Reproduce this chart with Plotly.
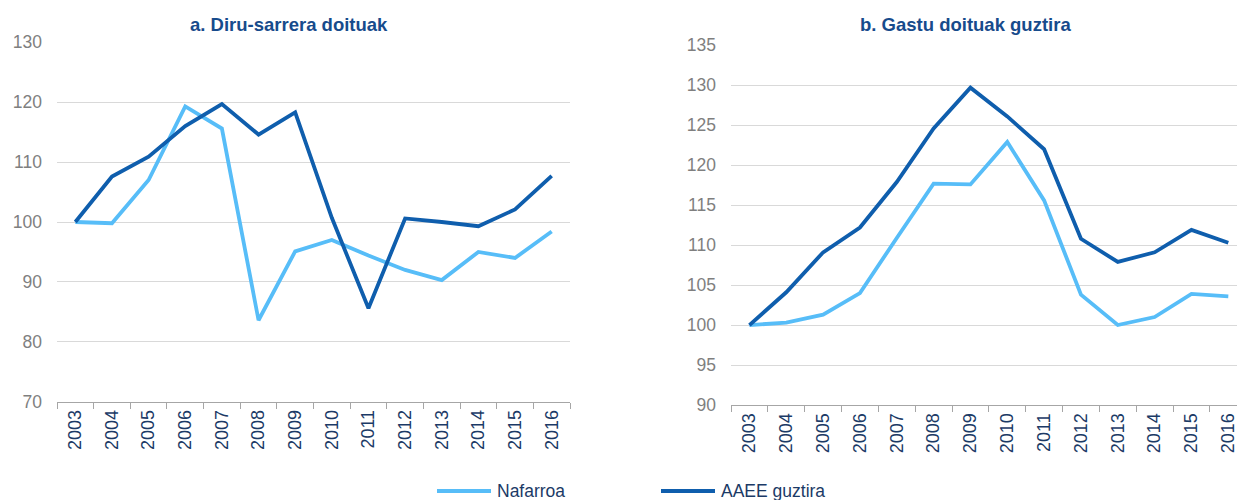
import plotly.graph_objects as go

# Index values, 2003 = 100
years = ["2003", "2004", "2005", "2006", "2007", "2008", "2009",
         "2010", "2011", "2012", "2013", "2014", "2015", "2016"]

series_names = ["Nafarroa", "AAEE guztira"]

# a. Adjusted revenue
income_nafarroa = [100.0, 99.8, 107.0, 119.3, 115.6, 83.6, 95.1,
                   97.0, 94.4, 92.0, 90.3, 95.0, 94.0, 98.4]
income_aaee = [100.0, 107.6, 110.9, 116.0, 119.7, 114.6, 118.3,
               100.7, 85.6, 100.6, 100.0, 99.3, 102.1, 107.7]

# b. Total adjusted expenditure
spend_nafarroa = [100.0, 100.3, 101.3, 104.0, 110.9, 117.7, 117.6,
                  122.9, 115.6, 103.8, 100.0, 101.0, 103.9, 103.6]
spend_aaee = [100.0, 104.1, 109.1, 112.2, 117.9, 124.6, 129.7,
              126.1, 122.0, 110.8, 107.9, 109.1, 111.9, 110.3]

panel_titles = ["a. Diru-sarrera doituak", "b. Gastu doituak guztira"]

LIGHT = "#57BDF8"
DARK = "#0F5EAD"
NAVY = "#1B3A66"
TITLE_BLUE = "#174B8C"
FONT = "Liberation Sans, Arial, sans-serif"
W, H = 1237, 500

fig = go.Figure()

panels = [
    ("x", "y", income_nafarroa, income_aaee),
    ("x2", "y2", spend_nafarroa, spend_aaee),
]
for xa, ya, naf, aaee in panels:
    for vals, color, name in ((naf, LIGHT, series_names[0]), (aaee, DARK, series_names[1])):
        fig.add_trace(go.Scatter(
            x=years, y=vals, mode="lines", name=name,
            line=dict(color=color, width=3.8),
            xaxis=xa, yaxis=ya, showlegend=False,
        ))

xcommon = dict(
    type="category", tickson="boundaries", ticks="outside", ticklen=6,
    tickcolor="#A6A6A6", showline=True, linecolor="#A6A6A6", linewidth=1,
    showgrid=False, tickangle=-90, automargin=False,
    tickfont=dict(family=FONT, size=18, color=NAVY),
    zeroline=False,
)
ycommon = dict(
    showgrid=True, gridcolor="#D9D9D9", gridwidth=1, zeroline=False,
    showline=False, ticks="", ticklabelstandoff=14, automargin=False,
    tickfont=dict(family=FONT, size=17.5, color="#7F7F7F"),
)

fig.update_layout(
    width=W, height=H,
    margin=dict(l=0, r=0, t=0, b=0),
    paper_bgcolor="white", plot_bgcolor="white",
    xaxis=dict(domain=[57 / W, 570 / W], range=[-0.5, 13.5], anchor="y", **xcommon),
    yaxis=dict(domain=[(H - 401.7) / H, (H - 42.3) / H], range=[70, 130],
               dtick=10, anchor="x", **ycommon),
    xaxis2=dict(domain=[731 / W, 1.0], range=[-0.5, 13.236], anchor="y2", **xcommon),
    yaxis2=dict(domain=[(H - 405) / H, (H - 45.3) / H], range=[90, 135],
                dtick=5, anchor="x2", **ycommon),
    showlegend=False,
)

# Panel titles
for title, cx in zip(panel_titles, (289, 965)):
    fig.add_annotation(
        text=f"<b>{title}</b>", x=cx / W, y=(H - 24) / H, xref="paper", yref="paper",
        showarrow=False, xanchor="center", yanchor="middle",
        font=dict(family=FONT, size=18.5, color=TITLE_BLUE),
    )

# Legend along the bottom
legend_y = (H - 491) / H
for name, color, x0 in zip(series_names, (LIGHT, DARK), (437, 661)):
    fig.add_shape(type="line", xref="paper", yref="paper",
                  x0=x0 / W, x1=(x0 + 54) / W, y0=legend_y, y1=legend_y,
                  line=dict(color=color, width=4))
    fig.add_annotation(
        text=name, x=(x0 + 58) / W, y=legend_y, xref="paper", yref="paper",
        showarrow=False, xanchor="left", yanchor="middle",
        font=dict(family=FONT, size=17.5, color=NAVY),
    )

fig.write_html("out.html")
